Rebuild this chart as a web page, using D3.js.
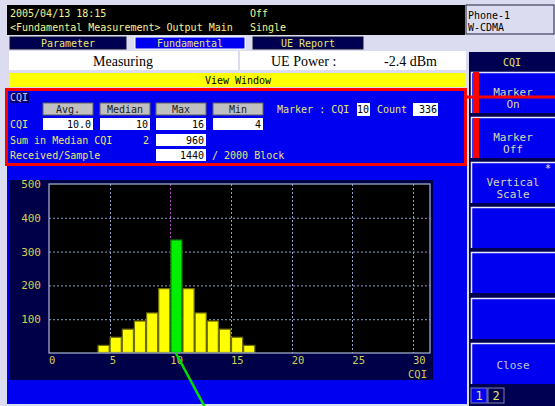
<!DOCTYPE html>
<html>
<head>
<meta charset="utf-8">
<script src="https://cdn.jsdelivr.net/npm/d3@7"></script>
<style>
  body { margin: 0; background: #dcdcf0; }
  svg { display: block; }
  text { font-family: "DejaVu Sans Mono", monospace; font-size: 10px; }
</style>
</head>
<body>
<div id="screen"></div>
<script>
// histogram data
const cqiBins = [4, 5, 6, 7, 8, 9, 10, 11, 12, 13, 14, 15, 16];
const cqiCounts = [24, 48, 72, 96, 120, 192, 336, 192, 120, 96, 72, 48, 24];
const markerCqi = 10;
const xTicks = [0, 5, 10, 15, 20, 25, 30];
const yTicks = [100, 200, 300, 400, 500];
const statLabels = ["Avg.", "Median", "Max", "Min"];
const statValues = ["10.0", "10", "16", "4"];
const softKeys = [["Marker", "On"], ["Marker", "Off"], ["Vertical", "Scale"], [], [], [], ["Close"]];

const W = 555, H = 406;
const yellowTxt = "#e8e870";

const svg = d3.select("#screen").append("svg")
    .attr("width", W).attr("height", H);

svg.append("rect").attr("width", W).attr("height", H).attr("fill", "#dcdcf0");

// ---- header
svg.append("rect").attr("x", 7).attr("y", 5).attr("width", 458).attr("height", 30).attr("fill", "#000");
function txt(x, y, s, opts) {
    opts = opts || {};
    return svg.append("text").attr("x", x).attr("y", y)
        .attr("fill", opts.fill || yellowTxt)
        .attr("text-anchor", opts.anchor || "start")
        .style("font-family", opts.font || null)
        .style("font-size", opts.size || null)
        .text(s);
}
txt(10, 17, "2005/04/13 18:15", {fill: "#f4f490"});
txt(250, 17, "Off", {fill: "#f4f490"});
txt(10, 31, "<Fundamental Measurement> Output Main", {fill: "#f4f490"});
txt(250, 31, "Single", {fill: "#f4f490"});

svg.append("rect").attr("x", 466).attr("y", 5).attr("width", 88).attr("height", 29)
    .attr("fill", "#dcdcf0").attr("stroke", "#202040").attr("stroke-width", 1);
txt(468, 19, "Phone-1", {fill: "#000"});
txt(468, 31, "W-CDMA", {fill: "#000"});

// ---- tabs
const tabs = [["Parameter", 10, 126, "#000050"], ["Fundamental", 135, 245, "#0000f0"], ["UE Report", 253, 363, "#000050"]];
tabs.forEach(t => {
    svg.append("rect").attr("x", t[1]).attr("y", 37).attr("width", t[2] - t[1]).attr("height", 12)
        .attr("fill", t[3]).attr("stroke", t[0] === "Fundamental" ? "#ffffff" : "#101030");
    txt((t[1] + t[2]) / 2, 47, t[0], {anchor: "middle"});
});

// ---- status row
svg.append("rect").attr("x", 9).attr("y", 51).attr("width", 229).attr("height", 19).attr("fill", "#fff");
svg.append("rect").attr("x", 240).attr("y", 51).attr("width", 226).attr("height", 19).attr("fill", "#fff");
txt(123, 66, "Measuring", {fill: "#000", anchor: "middle", font: "Liberation Serif", size: "14px"});
txt(271, 66, "UE Power :", {fill: "#000", font: "Liberation Serif", size: "14px"});
txt(437, 66, "-2.4 dBm", {fill: "#000", anchor: "end", font: "Liberation Serif", size: "14px"});

svg.append("rect").attr("x", 9).attr("y", 73).attr("width", 458).attr("height", 14).attr("fill", "#ffff00");
txt(238, 84, "View Window", {fill: "#000", anchor: "middle"});

// ---- right soft key panel
svg.append("rect").attr("x", 468).attr("y", 52).attr("width", 87).attr("height", 354).attr("fill", "#000050");
svg.append("rect").attr("x", 466).attr("y", 52).attr("width", 3).attr("height", 354).attr("fill", "#dcdcf0");
txt(512, 66, "CQI", {anchor: "middle"});
const keyTops = [72, 117, 162, 207, 252, 298, 343];
softKeys.forEach((k, i) => {
    const y0 = keyTops[i];
    svg.append("rect").attr("x", 471).attr("y", y0).attr("width", 84).attr("height", 41).attr("fill", "#0000f0");
    svg.append("path").attr("d", `M471.5,${y0 + 41}V${y0 + 0.5}H555`)
        .attr("fill", "none").attr("stroke", "#e8e8ff").attr("stroke-width", 1.5);
    if (k.length === 2) {
        txt(513, y0 + 24, k[0], {fill: "#d8d8b0", anchor: "middle", size: "11px"});
        txt(513, y0 + 36, k[1], {fill: "#d8d8b0", anchor: "middle", size: "11px"});
    } else if (k.length === 1) {
        txt(513, y0 + 26, k[0], {fill: "#c0c0c8", anchor: "middle", size: "11px"});
    }
});
txt(548, 172, "*", {fill: "#e8e8ff", anchor: "middle"});
// marker on/off red flags
svg.append("rect").attr("x", 473).attr("y", 72).attr("width", 6).attr("height", 41).attr("fill", "#ff0000");
svg.append("rect").attr("x", 473).attr("y", 118).attr("width", 6).attr("height", 40).attr("fill", "#ff0000");
[["1", 471, "#0000f0"], ["2", 488, "#000050"]].forEach(p => {
    svg.append("rect").attr("x", p[1]).attr("y", 388).attr("width", 16).attr("height", 15)
        .attr("fill", p[2]).attr("stroke", "#8080b0");
    txt(p[1] + 8, 400, p[0], {anchor: "middle", size: "12px"});
});

// ---- statistics box
svg.append("rect").attr("x", 6.5).attr("y", 89.5).attr("width", 459).attr("height", 75)
    .attr("fill", "#0000f0").attr("stroke", "#ff0000").attr("stroke-width", 3);
svg.append("line").attr("x1", 466).attr("x2", 555).attr("y1", 97).attr("y2", 97)
    .attr("stroke", "#ff0000").attr("stroke-width", 3);
svg.append("rect").attr("x", 10).attr("y", 92).attr("width", 19).attr("height", 11).attr("fill", "#000070");
txt(10, 101, "CQI", {fill: "#c8c8ff"});

const fieldX = [43, 100, 156, 213];
statLabels.forEach((s, i) => {
    svg.append("rect").attr("x", fieldX[i]).attr("y", 103).attr("width", 50).attr("height", 12)
        .attr("fill", "#c0c0c0").attr("stroke", "#606060");
    txt(fieldX[i] + 25, 113, s, {fill: "#202020", anchor: "middle"});
    svg.append("rect").attr("x", fieldX[i]).attr("y", 118).attr("width", 50).attr("height", 12).attr("fill", "#fff");
    txt(fieldX[i] + 48, 128, statValues[i], {fill: "#000", anchor: "end"});
});
txt(10, 128, "CQI");
txt(10, 144, "Sum in Median CQI");
txt(149, 144, "2", {anchor: "end"});
svg.append("rect").attr("x", 156).attr("y", 134).attr("width", 50).attr("height", 12).attr("fill", "#fff");
txt(204, 144, "960", {fill: "#000", anchor: "end"});
txt(10, 159, "Received/Sample");
svg.append("rect").attr("x", 156).attr("y", 149).attr("width", 50).attr("height", 12).attr("fill", "#fff");
txt(204, 159, "1440", {fill: "#000", anchor: "end"});
txt(212, 159, "/ 2000 Block");

txt(277, 113, "Marker : CQI");
svg.append("rect").attr("x", 357).attr("y", 103).attr("width", 13).attr("height", 13).attr("fill", "#fff");
txt(369, 113, String(markerCqi), {fill: "#000", anchor: "end"});
txt(377, 113, "Count");
svg.append("rect").attr("x", 413).attr("y", 103).attr("width", 25).attr("height", 13).attr("fill", "#fff");
txt(437, 113, String(cqiCounts[cqiBins.indexOf(markerCqi)]), {fill: "#000", anchor: "end"});

// ---- graph area
svg.append("rect").attr("x", 7).attr("y", 166).attr("width", 460).attr("height", 238).attr("fill", "#0000f0");
svg.append("rect").attr("x", 9).attr("y", 180).attr("width", 424).attr("height", 200).attr("fill", "#000048");

const x = d3.scaleLinear().domain([0, 31.4]).range([49, 430]);
const y = d3.scaleLinear().domain([0, 500]).range([353, 184]);

svg.append("rect").attr("x", x(0)).attr("y", y(500)).attr("width", x(31.4) - x(0)).attr("height", y(0) - y(500))
    .attr("fill", "#000");

const grid = svg.append("g").attr("stroke", "#8ea0c8").attr("stroke-dasharray", "2,2");
grid.selectAll("line.h").data(yTicks.slice(0, 4)).join("line").attr("class", "h")
    .attr("x1", x(0)).attr("x2", x(31.4)).attr("y1", d => y(d) + 0.5).attr("y2", d => y(d) + 0.5);

svg.append("g").selectAll("rect").data(cqiBins).join("rect")
    .attr("x", d => x(d) + 0.5)
    .attr("y", (d, i) => y(cqiCounts[i]) + 0.5)
    .attr("width", d => x(d + 1) - x(d) - 1)
    .attr("height", (d, i) => y(0) - y(cqiCounts[i]) - 1)
    .attr("fill", d => d === markerCqi ? "#00f000" : "#ffff00")
    .attr("stroke", d => d === markerCqi ? "#007000" : "#6c6c00")
    .attr("stroke-width", 1.2);

grid.selectAll("line.v").data(xTicks.slice(1)).join("line").attr("class", "v")
    .attr("x1", d => Math.round(x(d)) + 0.5).attr("x2", d => Math.round(x(d)) + 0.5)
    .attr("y1", y(500)).attr("y2", y(0))
    .attr("stroke", d => d === markerCqi ? "#b040c0" : null);

svg.append("rect").attr("x", x(0)).attr("y", y(500)).attr("width", x(31.4) - x(0)).attr("height", y(0) - y(500))
    .attr("fill", "none").attr("stroke", "#a8b8d8").attr("stroke-width", 1.2);

// axis labels
svg.append("g").selectAll("text").data(yTicks).join("text")
    .attr("x", 41).attr("y", d => y(d) + 4)
    .attr("text-anchor", "end").attr("fill", "#d0d050").style("font-size", "11px")
    .text(d => d);
svg.append("g").selectAll("text").data(xTicks).join("text")
    .attr("x", d => x(d)).attr("y", 364)
    .attr("fill", "#d0d050").style("font-size", "10.5px")
    .text(d => d);
txt(427, 378, "CQI", {fill: "#d0d050", anchor: "end", size: "10.5px"});

// marker pointer line running off screen
svg.append("line")
    .attr("x1", x(markerCqi + 0.45)).attr("y1", y(0))
    .attr("x2", x(markerCqi + 2.8)).attr("y2", 406)
    .attr("stroke", "#00e000").attr("stroke-width", 2.5);
</script>
</body>
</html>
